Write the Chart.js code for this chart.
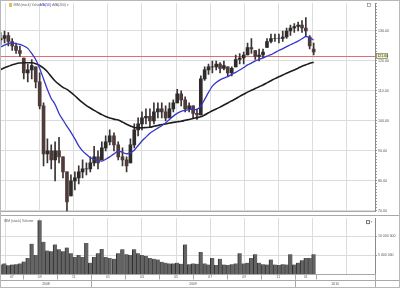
<!DOCTYPE html>
<html>
<head>
<meta charset="utf-8">
<script src="https://cdn.jsdelivr.net/npm/chart.js@4"></script>
<style>
  body { margin: 0; background: #fff; }
  #wrap { position: relative; width: 400px; height: 288px; overflow: hidden; }
  canvas { position: absolute; left: 0; }
  #priceChart { top: 0; }
  #volumeChart { top: 215px; }
  #frame { position: absolute; left: 0; top: 0; width: 400px; height: 288px; box-sizing: border-box; border: 1px solid #b8b8b8; pointer-events: none; }
</style>
</head>
<body>
<div id="wrap">
  <canvas id="priceChart" width="400" height="215"></canvas>
  <canvas id="volumeChart" width="400" height="73"></canvas>
  <div id="frame"></div>
</div>
<script>
// weekly bars (mid-week dates)
const weeks = [
  '2008-07-23','2008-07-30','2008-08-06','2008-08-13','2008-08-20','2008-08-27','2008-09-03','2008-09-10',
  '2008-09-17','2008-09-24','2008-10-01','2008-10-08','2008-10-15','2008-10-22','2008-10-29','2008-11-05',
  '2008-11-12','2008-11-19','2008-11-26','2008-12-03','2008-12-10','2008-12-17','2008-12-24','2008-12-31',
  '2009-01-07','2009-01-14','2009-01-21','2009-01-28','2009-02-04','2009-02-11','2009-02-18','2009-02-25',
  '2009-03-04','2009-03-11','2009-03-18','2009-03-25','2009-04-01','2009-04-08','2009-04-15','2009-04-22',
  '2009-04-29','2009-05-06','2009-05-13','2009-05-20','2009-05-27','2009-06-03','2009-06-10','2009-06-17',
  '2009-06-24','2009-07-01','2009-07-08','2009-07-15','2009-07-22','2009-07-29','2009-08-05','2009-08-12',
  '2009-08-19','2009-08-26','2009-09-02','2009-09-09','2009-09-16','2009-09-23','2009-09-30','2009-10-07',
  '2009-10-14','2009-10-21','2009-10-28','2009-11-04','2009-11-11','2009-11-18','2009-11-25','2009-12-02',
  '2009-12-09','2009-12-16','2009-12-23','2009-12-30','2010-01-06','2010-01-13','2010-01-20','2010-01-27',
  '2010-02-03'
];
const opens = [
  127,127.5,128.5,126.5,125,123.5,121,116,117,118,113,105,89,90,87,90,88,83,75,80,81,83,84,84,
  86,88,87,91,93,95,92,88,87,86,92,97,99,101,101.5,100,103,104,103,101,104,106,109,107,104,105,102.5,102,
  114,117,118,118,119,117.5,118,116,118,120.5,121,122,124.5,123.5,121.5,122,124.5,126.5,127.5,127.5,127.5,128,130,131,
  131.5,132,131,128,124
];
const highs = [
  129.5,130,129.5,127.5,126,125,121,119,120.5,118,116,106,94,92,93,94.5,88,83,82,83,85,87,86,88,
  91.5,90,93,95,97,96,93,91,88,94,99,101,103,104,104,106,106,106,105,106,107,110.5,110,108,106,105,104,115,
  118,119,120,120,119.5,120,118,118,122,122.5,123,126,127.5,123.5,124,124,127.5,129,129,129,130,131,132,132.5,
  133,133.5,134.5,128.5,126
];
const lows = [
  125.5,126,125,123.5,122.5,121.5,114,113,114,111,104,85,86,84,80,86,81,70,75,77,79,81,82,83,
  85,84,87,90,92,90,87,85,83,86,91,95,97,99,98,99,101,101,100,101,103,106,105,103,103,101,100.5,102,
  113.5,115.5,116,117,116,117,115,115,118,119,119,122,122.5,120.5,120,121,124.5,126,126.5,126,126.5,127.5,128.5,129.5,
  130,129.5,128,124,122
];
const closes = [
  127.5,128.5,126.5,125,123.5,122.5,116,117,118.5,113,105,89,90,87,90,88,83,73,80,81,83,84,84,86,
  88,86,91,93,95,92,88,87,85,92,97,99,101,101.5,100,103,104,103,101,104,106,109,107,104,105,102.5,102,114,
  117,118,118,119,117.5,118.5,116,117.5,120.5,121,122,124.5,124,121.5,122,123,126.5,127.5,127.5,127.5,128,130,131,131.5,
  132,131,130,125,123
];
const ma50 = [
  124.7,125.3,125.8,126,125.8,125.5,125,124.2,122.5,120.5,117.5,114,110.5,107.5,105.5,102.5,100.3,98.2,96.2,94,
  91.7,90,88.8,87.7,87.2,86.8,86.6,87.2,88,89,89.9,89.5,89,89.4,90.2,91.8,93.3,94.6,95.9,96.8,
  97.6,98.4,99.3,100.5,101.6,102.5,103.2,103.5,103.8,103.8,103.8,105,107.2,109.5,111.6,112.8,113.7,114.3,114.8,115.5,
  116.2,117,117.8,118.7,119.3,120,120.5,121,121.6,122.1,122.8,123.5,124.1,124.8,125.4,126,126.6,127.4,128.2,127.7,
  127
];
const ma200 = [
  117.1,117.7,118.2,118.7,119.1,119.3,119.4,119.4,119.4,119.1,118.5,117.6,116.4,114.8,113.3,112.2,111.2,110.5,109.5,108.4,
  107.2,106.1,105.1,104.3,103.5,102.8,102.1,101.5,101,100.6,100.3,99.6,98.9,98.3,97.8,97.7,97.7,97.8,97.9,98.2,
  98.5,98.8,99,99.3,99.5,99.7,99.9,100.2,100.5,100.8,101.1,101.4,102,102.7,103.4,104,104.6,105.3,106,106.7,
  107.4,108.2,108.9,109.6,110.2,110.8,111.4,112,112.7,113.4,114.1,114.7,115.3,115.9,116.5,117,117.6,118.2,118.7,119.2,
  119.6
];
// volume in millions of shares
const volumes = [
  2.5,2.8,2.3,2.5,2.6,2.8,3.3,4.2,8,5,14.2,8.5,6.2,6,7.8,6.5,6,7,5.5,4.5,
  5,4.5,8.2,3,4.5,5.5,6.6,4.5,4.2,4,5.5,6.5,5.2,5,6.5,5.5,5,4.8,4.2,4,
  3.8,3.2,3,2.8,2.8,3,2.7,7.8,2.6,2.8,2.7,5.8,2.8,2.5,4.2,2.4,4,2.5,2.4,2.6,
  2.8,5.5,2.8,3,4.2,5.2,3,2.6,2.5,3.8,2.5,2.4,2.6,2.5,5.2,2.5,3,3.6,4.2,4.2,
  5.2
];
const lastPrice = 121.6;
const priceTicks = [70, 80, 90, 100, 110, 120, 130];
const volumeTicks = [5, 10];
const monthMarks = ['2008-07-01','2008-09-01','2008-11-01','2009-01-01','2009-03-01','2009-05-01',
  '2009-07-01','2009-09-01','2009-11-01','2010-01-01','2010-03-01','2010-05-01'];
const yearLabels = ['2008', '2009', '2010'];

// months counted from Jan 2009
function toMonth(s) {
  const [y, m, d] = s.split('-').map(Number);
  const days = new Date(y, m, 0).getDate();
  return (y - 2009) * 12 + (m - 1) + (d - 1) / days;
}

const xMin = -5.27, xMax = 16.67;
const yMin = 69.67, yMax = 139.28;
const fontFamily = '"Liberation Sans", Arial, sans-serif';
Chart.defaults.font.family = fontFamily;

const monthGrid = s => {
  s.ticks = monthMarks.map(toMonth).filter(v => v > xMin && v < xMax).map(v => ({ value: v }));
};
const spaced = v => String(Math.round(v * 1000000)).replace(/\B(?=(\d{3})+(?!\d))/g, ' ');

// red last-price line, its tag and the little legend
const priceOverlay = {
  id: 'priceOverlay',
  beforeDatasetsDraw(chart) {
    const { ctx, chartArea, scales } = chart;
    const y = Math.round(scales.y.getPixelForValue(lastPrice)) + 0.5;
    ctx.save();
    ctx.strokeStyle = '#e07070';
    ctx.lineWidth = 1;
    ctx.beginPath();
    ctx.moveTo(chartArea.left, y);
    ctx.lineTo(chartArea.right, y);
    ctx.stroke();
    ctx.restore();
  },
  afterDraw(chart) {
    const { ctx, chartArea, scales } = chart;
    const y = Math.round(scales.y.getPixelForValue(lastPrice));
    ctx.save();
    ctx.fillStyle = '#eef2c4';
    ctx.fillRect(chartArea.right + 1, y - 3, 12, 6);
    ctx.strokeStyle = '#6f6f50';
    ctx.lineWidth = 0.6;
    ctx.strokeRect(chartArea.right + 1.5, y - 2.5, 11, 5);
    ctx.fillStyle = '#333';
    ctx.font = '3.6px ' + fontFamily;
    ctx.textBaseline = 'middle';
    ctx.fillText(lastPrice.toFixed(2), chartArea.right + 2.3, y + 0.2);

    ctx.fillStyle = '#e2bd5e';
    ctx.fillRect(9, 3, 3, 4);
    ctx.font = '3.4px ' + fontFamily;
    ctx.fillStyle = '#666';
    ctx.fillText('IBM (stock) Yahoo', 13.5, 5.5);
    ctx.fillStyle = '#3636c8';
    ctx.fillText('MA(50) \u25BE', 40, 5.5);
    ctx.fillStyle = '#666';
    ctx.fillText('MA(200) \u25BE', 53, 5.5);
    ctx.strokeStyle = '#777';
    ctx.strokeRect(367.5, 3.5, 3, 3);
    ctx.restore();
  }
};

// month / year rows under the volume panel
const timeRows = {
  id: 'timeRows',
  afterDraw(chart) {
    const { ctx, chartArea, scales } = chart;
    const sx = scales.x;
    const top = chartArea.bottom;
    const mid = top + 5.5;
    const bottom = chart.height - 1;
    const end = toMonth(weeks[weeks.length - 1]) + 0.15;
    const px = v => Math.round(sx.getPixelForValue(v)) + 0.5;
    const marks = monthMarks.map(toMonth);
    ctx.save();
    ctx.strokeStyle = '#a8a8a8';
    ctx.lineWidth = 1;
    ctx.beginPath();
    ctx.moveTo(0, 0.5); ctx.lineTo(chart.width, 0.5);
    ctx.moveTo(chartArea.left, Math.round(mid) + 0.5); ctx.lineTo(chart.width, Math.round(mid) + 0.5);
    ctx.moveTo(chartArea.right + 0.5, top); ctx.lineTo(chartArea.right + 0.5, bottom);
    marks.filter(v => v > xMin && v < end).concat([end]).forEach(v => {
      ctx.moveTo(px(v), top); ctx.lineTo(px(v), mid);
    });
    yearLabels.forEach(y => {
      const v = toMonth(y + '-01-01');
      if (v > xMin && v < xMax) { ctx.moveTo(px(v), mid); ctx.lineTo(px(v), bottom); }
    });
    ctx.stroke();

    ctx.fillStyle = '#555';
    ctx.font = '3.4px ' + fontFamily;
    ctx.textAlign = 'center';
    ctx.textBaseline = 'middle';
    marks.forEach((v, i) => {
      const a = Math.max(v, xMin);
      const b = Math.min(i + 1 < marks.length ? marks[i + 1] : xMax, end);
      if (b > a) ctx.fillText(monthMarks[i].slice(5, 7), sx.getPixelForValue((a + b) / 2), (top + mid) / 2 + 0.3);
    });
    yearLabels.forEach(y => {
      const a = Math.max(toMonth(y + '-01-01'), xMin);
      const b = Math.min(toMonth((Number(y) + 1) + '-01-01'), xMax);
      ctx.fillText(y, sx.getPixelForValue((a + b) / 2), (mid + bottom) / 2 + 0.5);
    });

    ctx.textAlign = 'left';
    ctx.fillStyle = '#666';
    ctx.fillText('IBM (stock) Volume', 4, chartArea.top + 3);
    ctx.strokeStyle = '#777';
    ctx.strokeRect(366.5, chartArea.top + 2.5, 3, 3);
    ctx.fillStyle = '#444';
    ctx.fillText('\u00D7', 370.5, chartArea.top + 4);
    ctx.restore();
  }
};

const commonOptions = {
  responsive: false,
  animation: false,
  devicePixelRatio: 1,
  plugins: { legend: { display: false }, tooltip: { enabled: false } }
};

// Price panel
new Chart(document.getElementById('priceChart'), {
  type: 'bar',
  data: {
    datasets: [
      {
        type: 'line',
        label: 'MA(50)',
        data: weeks.map((w, i) => ({ x: toMonth(w), y: ma50[i] })),
        borderColor: '#3636c8',
        borderWidth: 1.3,
        pointRadius: 0,
        tension: 0.3,
        clip: 0,
        order: 0
      },
      {
        type: 'line',
        label: 'MA(200)',
        data: weeks.map((w, i) => ({ x: toMonth(w), y: ma200[i] })),
        borderColor: '#1e1e1e',
        borderWidth: 1.6,
        pointRadius: 0,
        tension: 0.3,
        clip: 0,
        order: 1
      },
      {
        label: 'IBM body',
        data: weeks.map((w, i) => ({ x: toMonth(w), y: [opens[i], closes[i]] })),
        backgroundColor: c => closes[c.dataIndex] >= opens[c.dataIndex] ? '#2e2b2b' : '#4f3b3a',
        barThickness: 3,
        grouped: false,
        clip: 0,
        order: 2
      },
      {
        label: 'IBM range',
        data: weeks.map((w, i) => ({ x: toMonth(w), y: [lows[i], highs[i]] })),
        backgroundColor: '#3b3434',
        barThickness: 1,
        grouped: false,
        clip: 0,
        order: 3
      }
    ]
  },
  options: {
    ...commonOptions,
    layout: { padding: { top: 3, left: 1, right: 0, bottom: 2 } },
    scales: {
      x: {
        type: 'linear',
        min: xMin,
        max: xMax,
        offset: false,
        afterBuildTicks: monthGrid,
        afterFit: s => { s.height = 0; },
        ticks: { display: false },
        grid: { color: '#dcdcdc', drawTicks: false },
        border: { color: '#a8a8a8' }
      },
      y: {
        position: 'right',
        min: yMin,
        max: yMax,
        afterBuildTicks: s => {
          const t = [];
          for (let v = Math.ceil(yMin); v <= yMax; v++) t.push({ value: v });
          s.ticks = t;
        },
        afterFit: s => { s.width = 25; },
        ticks: {
          autoSkip: false,
          padding: 1,
          color: '#555',
          font: { size: 3.6 },
          callback: v => priceTicks.includes(v) ? v.toFixed(2) : ''
        },
        grid: {
          color: c => priceTicks.includes(c.tick.value) ? '#dcdcdc' : 'rgba(0,0,0,0)',
          tickColor: '#9a9a9a',
          tickLength: 2
        },
        border: { color: '#8a8a8a' }
      }
    }
  },
  plugins: [priceOverlay]
});

// Volume panel
new Chart(document.getElementById('volumeChart'), {
  type: 'bar',
  data: {
    datasets: [{
      label: 'Volume',
      data: weeks.map((w, i) => ({ x: toMonth(w), y: volumes[i] })),
      backgroundColor: '#646464',
      borderColor: '#2e2e2e',
      borderWidth: { left: 1, right: 0, top: 0, bottom: 0 },
      borderSkipped: false,
      barThickness: 4,
      clip: 0
    }]
  },
  options: {
    ...commonOptions,
    layout: { padding: { top: 1, left: 1, right: 0, bottom: 0 } },
    scales: {
      x: {
        type: 'linear',
        min: xMin,
        max: xMax,
        offset: false,
        afterBuildTicks: monthGrid,
        afterFit: s => { s.height = 14; },
        ticks: { display: false },
        grid: { color: '#dcdcdc', drawTicks: false },
        border: { color: '#a8a8a8' }
      },
      y: {
        position: 'right',
        min: 0,
        max: 14.75,
        afterBuildTicks: s => { s.ticks = volumeTicks.map(v => ({ value: v })); },
        afterFit: s => { s.width = 25; },
        ticks: {
          autoSkip: false,
          padding: 1,
          color: '#555',
          font: { size: 3.5 },
          callback: v => spaced(v)
        },
        grid: { color: '#dcdcdc', tickColor: '#9a9a9a', tickLength: 2 },
        border: { color: '#8a8a8a' }
      }
    }
  },
  plugins: [timeRows]
});
</script>
</body>
</html>
